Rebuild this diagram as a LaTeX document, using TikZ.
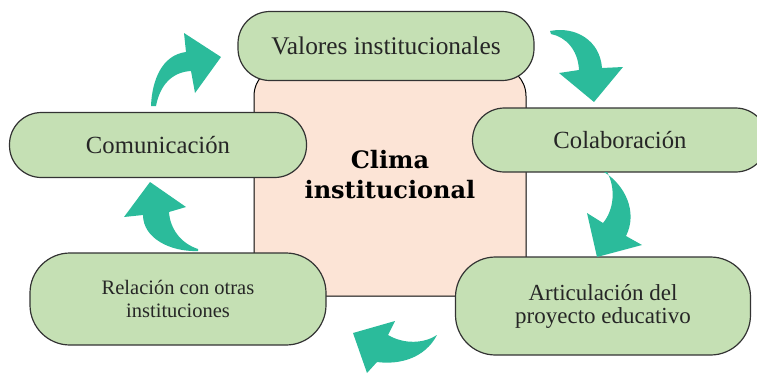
\documentclass[tikz,border=0pt]{standalone}
\usepackage{fontspec}
\setmainfont{Liberation Serif}
\newfontfamily\climafont{DejaVu Serif}
\usepackage{xcolor}
\usetikzlibrary{positioning, shapes.misc}

\definecolor{pillgreen}{RGB}{197,224,180}
\definecolor{corepeach}{RGB}{252,228,214}
\definecolor{arrowteal}{RGB}{43,187,155}

\begin{document}
\begin{tikzpicture}[
    x=1pt, y=-1pt,
    line width=1.2pt,
    pill/.style={rectangle, rounded corners=32pt, draw=black!80, fill=pillgreen,
        text=black!85, align=center, inner sep=0pt},
    turn/.style={fill=arrowteal, draw=none}
]

\useasboundingbox (0,0) rectangle (757,373);

% =========================================================
% CENTRE: clima institucional
% =========================================================
\node[draw=black, line width=1pt, fill=corepeach, rounded corners=30pt,
      minimum width=272pt, minimum height=230pt] (core) at (390,181) {};
\node[font=\climafont\bfseries\fontsize{24}{30}\selectfont, align=center] (clima) at (390,175)
    {Clima\\institucional};

% =========================================================
% PILLS round the centre
% =========================================================
\node[pill, minimum width=296pt, minimum height=69pt, font=\fontsize{25.4}{28}\selectfont]
    (valores) at (386,46) {Valores institucionales};
\node[pill, minimum width=297pt, minimum height=65pt, font=\fontsize{24.7}{28}\selectfont]
    (comunicacion) at (158,145) {Comunicación};
\node[pill, minimum width=295pt, minimum height=64pt, font=\fontsize{24.7}{28}\selectfont]
    (colaboracion) at (620,140) {Colaboración};
\node[pill, rounded corners=40pt, minimum width=296pt, minimum height=92pt,
      font=\fontsize{20.5}{23}\selectfont]
    (relacion) at (178,299) {Relación con otras\\instituciones};
\node[pill, rounded corners=40pt, minimum width=295pt, minimum height=98pt,
      font=\fontsize{23}{23}\selectfont]
    (articulacion) at (603,306) {Articulación del\\proyecto educativo};

% =========================================================
% CURVED ARROWS (clockwise)
% =========================================================
% comunicacion -> valores
\fill[turn] (151,106) .. controls (152,80) and (162,55) .. (186,52)
    -- (184,33) -- (221,57) -- (195,93) -- (191,71)
    .. controls (172,72) and (160,85) .. (156,106) -- cycle;

% valores -> colaboracion
\fill[turn] (550,31) .. controls (575,26) and (600,40) .. (602,68)
    -- (623,67) -- (594,102) -- (559,73) -- (579,70)
    .. controls (578,50) and (566,37) .. (551,34) -- cycle;

% colaboracion -> articulacion
\fill[turn] (604,172) .. controls (625,185) and (638,212) .. (626,236)
    -- (642,245) -- (597,257) -- (587,213) -- (603,223)
    .. controls (614,210) and (616,188) .. (607,172) -- cycle;

% articulacion -> relacion
\fill[turn] (437,335) .. controls (425,358) and (400,365) .. (377,362)
    -- (367,373) -- (353,333) -- (395,321) -- (388,335)
    .. controls (405,345) and (425,343) .. (437,335) -- cycle;

% relacion -> comunicacion
\fill[turn] (198,251) .. controls (170,252) and (143,238) .. (143,215)
    -- (124,217) -- (150,182) -- (186,207) -- (169,212)
    .. controls (170,228) and (180,243) .. (198,249) -- cycle;

\end{tikzpicture}
\end{document}
